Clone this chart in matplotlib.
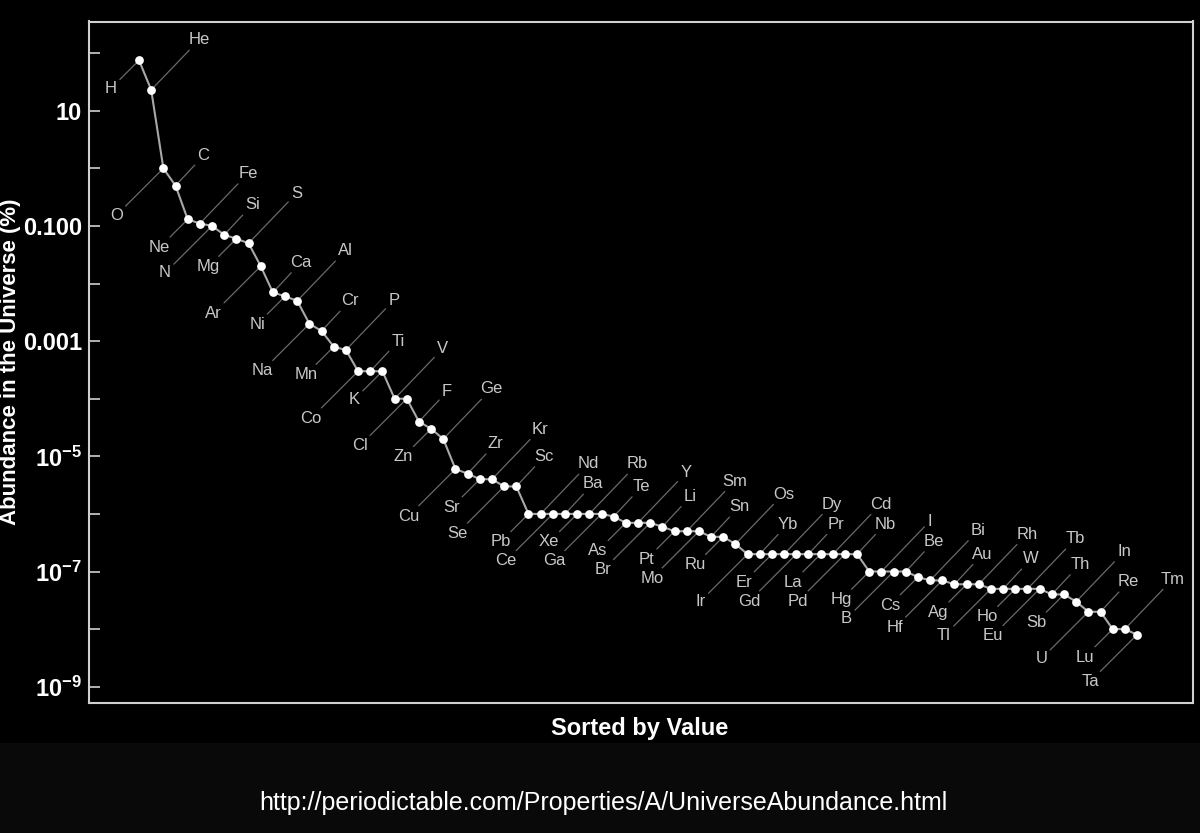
import matplotlib
matplotlib.use("Agg")
import matplotlib.pyplot as plt
from matplotlib.patches import Rectangle
from matplotlib.ticker import FixedLocator, FixedFormatter, NullFormatter

# Elements sorted by abundance in the universe (mass %)
elements = ["H", "He", "O", "C", "Ne", "Fe", "N", "Si", "Mg", "S",
            "Ar", "Ca", "Ni", "Al", "Na", "Cr", "Mn", "P", "Co", "Ti",
            "K", "V", "Cl", "F", "Zn", "Ge", "Cu", "Zr", "Sr", "Kr",
            "Se", "Sc", "Pb", "Nd", "Ce", "Ba", "Xe", "Rb", "Ga", "Te",
            "As", "Y", "Br", "Li", "Pt", "Sm", "Mo", "Sn", "Ru", "Os",
            "Ir", "Yb", "Er", "Dy", "Gd", "Pr", "La", "Cd", "Pd", "Nb",
            "Hg", "I", "B", "Be", "Cs", "Bi", "Hf", "Au", "Ag", "Rh",
            "Tl", "W", "Ho", "Tb", "Eu", "Th", "Sb", "In", "U", "Re",
            "Lu", "Tm", "Ta"]
abundance = [75, 23, 1, 0.5, 0.13, 0.11, 0.1, 0.07, 0.06, 0.05,
             0.02, 0.007, 0.006, 0.005, 0.002, 0.0015, 0.0008, 0.0007, 3e-4, 3e-4,
             3e-4, 1e-4, 1e-4, 4e-5, 3e-5, 2e-5, 6e-6, 5e-6, 4e-6, 4e-6,
             3e-6, 3e-6, 1e-6, 1e-6, 1e-6, 1e-6, 1e-6, 1e-6, 1e-6, 9e-7,
             7e-7, 7e-7, 7e-7, 6e-7, 5e-7, 5e-7, 5e-7, 4e-7, 4e-7, 3e-7,
             2e-7, 2e-7, 2e-7, 2e-7, 2e-7, 2e-7, 2e-7, 2e-7, 2e-7, 2e-7,
             1e-7, 1e-7, 1e-7, 1e-7, 8e-8, 7e-8, 7e-8, 6e-8, 6e-8, 6e-8,
             5e-8, 5e-8, 5e-8, 5e-8, 5e-8, 4e-8, 4e-8, 3e-8, 2e-8, 2e-8,
             1e-8, 1e-8, 8e-9]

major_ticks = [1e-9, 1e-7, 1e-5, 1e-3, 1e-1, 10]
major_labels = [r"$\mathbf{10^{-9}}$", r"$\mathbf{10^{-7}}$", r"$\mathbf{10^{-5}}$",
                "0.001", "0.100", "10"]
minor_ticks = [1e-8, 1e-6, 1e-4, 1e-2, 1, 100]

plt.rcParams["font.family"] = ["Liberation Sans", "DejaVu Sans"]
plt.rcParams["mathtext.fontset"] = "custom"
plt.rcParams["mathtext.rm"] = "Liberation Sans"
plt.rcParams["mathtext.bf"] = "Liberation Sans:bold"

fig = plt.figure(figsize=(12, 8.33), dpi=100, facecolor="black")
# slightly lighter band at the bottom for the source line
fig.patches.append(Rectangle((0, 0), 1, 90 / 833, transform=fig.transFigure,
                             facecolor="#090909", edgecolor="none", zorder=0))

ax = fig.add_axes([89 / 1200, 1 - 703 / 833, 1104 / 1200, 681.5 / 833])
ax.set_facecolor("black")

x = list(range(1, len(elements) + 1))
ax.plot(x, abundance, color="#a8a8a8", lw=1.5, zorder=2)
ax.plot(x, abundance, "o", color="white", markersize=6.3, markeredgewidth=0, zorder=3)

ax.set_yscale("log")
ax.set_ylim(10 ** -9.283, 10 ** 2.549)
ax.set_xlim(-3.11, 87.6)

# labels alternate below-left / above-right, with short and long leaders
for i, (el, v) in enumerate(zip(elements, abundance)):
    if i % 2 == 0:
        d = 28 if (i // 2) % 2 == 0 else 47
        off = (-d, -d)
    else:
        d = 47 if (i // 2) % 2 == 0 else 27
        off = (d + 1, d + 3)
    ax.annotate(el, (x[i], v), xytext=off, textcoords="offset pixels",
                ha="center", va="center", fontsize=12, color="#c8c8c8",
                arrowprops=dict(arrowstyle="-", color="#6a6a6a", lw=0.9,
                                shrinkA=0, shrinkB=3), zorder=1)

for s in ax.spines.values():
    s.set_color("#d0d0d0")
    s.set_linewidth(1.5)

ax.set_xticks([])
ax.yaxis.set_major_locator(FixedLocator(major_ticks))
ax.yaxis.set_major_formatter(FixedFormatter(major_labels))
ax.yaxis.set_minor_locator(FixedLocator(minor_ticks))
ax.yaxis.set_minor_formatter(NullFormatter())
ax.tick_params(axis="y", which="both", direction="in", length=8, width=1.2,
               color="#d0d0d0", pad=5, labelsize=17, labelcolor="white", right=False)
for lab in ax.get_yticklabels():
    lab.set_fontweight("bold")

fig.text(11 / 1200, 1 - 362 / 833, "Abundance in the Universe (%)", rotation=90,
         ha="center", va="center", fontsize=16, fontweight="bold", color="white")
fig.text(640 / 1200, 1 - 728 / 833, "Sorted by Value", ha="center", va="center",
         fontsize=17, fontweight="bold", color="white")
fig.text(603 / 1200, 1 - 803 / 833,
         "http://periodictable.com/Properties/A/UniverseAbundance.html",
         ha="center", va="center", fontsize=18, color="white")

fig.savefig("out.png", dpi=100, facecolor="black")
